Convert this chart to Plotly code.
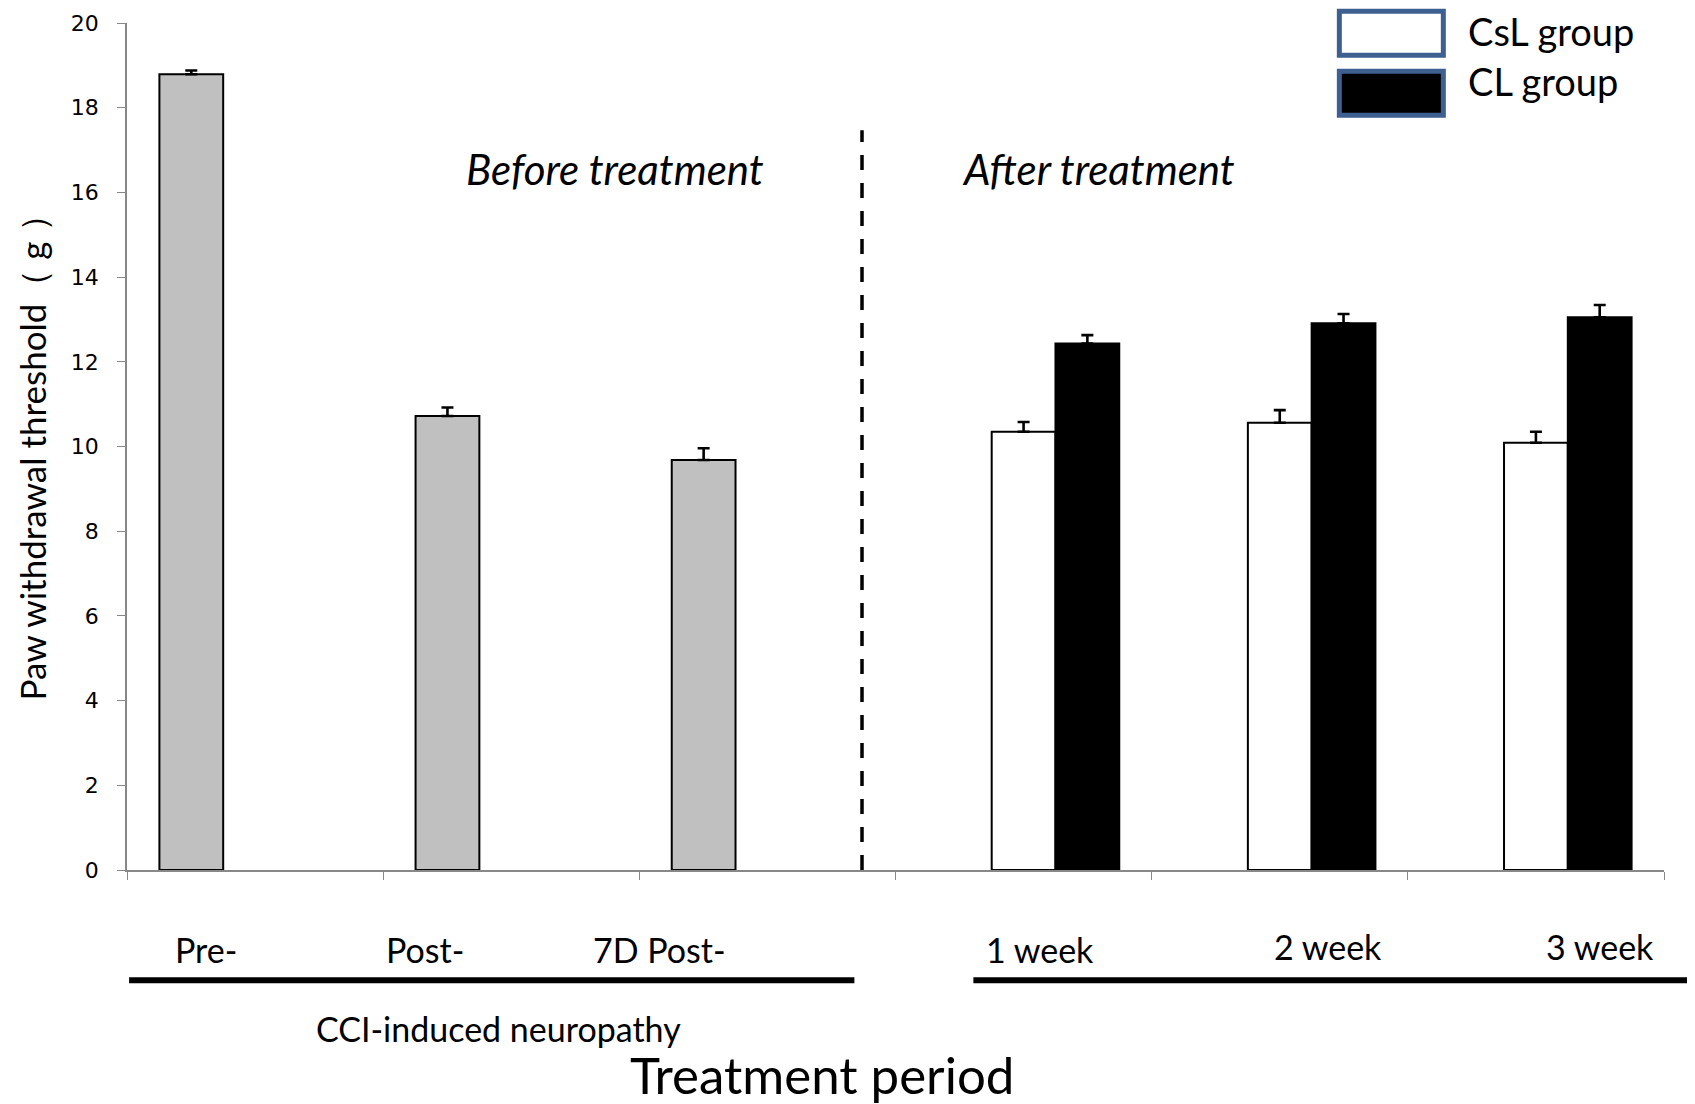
import plotly.graph_objects as go

# ---- data ----
categories = ["Pre-", "Post-", "7D Post-", "1 week", "2 week", "3 week"]
baseline_vals = [18.79, 10.72, 9.68, None, None, None]
baseline_err = [0.09, 0.20, 0.28, 0, 0, 0]
csl_vals = [None, None, None, 10.35, 10.56, 10.09]
csl_err = [0, 0, 0, 0.23, 0.30, 0.26]
cl_vals = [None, None, None, 12.43, 12.91, 13.05]
cl_err = [0, 0, 0, 0.20, 0.22, 0.29]
series_names = ["CsL group", "CL group"]
y_ticks = [0, 2, 4, 6, 8, 10, 12, 14, 16, 18, 20]

OFF = 8  # browser body margin
W, H = 1695 - OFF, 1104 - OFF
plot_left, plot_right, plot_top, plot_bottom = 126.5, 1663.7, 22.7, 870.2  # page coords
L = plot_left - OFF
T = plot_top - OFF
R = W - (plot_right - OFF)
B = H - (plot_bottom - OFF)
pw, ph = plot_right - plot_left, plot_bottom - plot_top

def px(x):
    return (x - plot_left) / pw

def py(y):
    return (plot_bottom - y) / ph

zeros = [0] * len(categories)

fig = go.Figure()
err_style = dict(type="data", symmetric=False, arrayminus=zeros, color="black", thickness=2.6, width=6)
bar_line = dict(color="black", width=2)
fig.add_trace(go.Bar(x=categories, y=baseline_vals, name="baseline",
                     marker=dict(color="#C0C0C0", line=bar_line),
                     error_y=dict(array=baseline_err, **err_style), showlegend=False))
fig.add_trace(go.Bar(x=categories, y=csl_vals, name=series_names[0],
                     marker=dict(color="white", line=bar_line),
                     error_y=dict(array=csl_err, **err_style), showlegend=False))
fig.add_trace(go.Bar(x=categories, y=cl_vals, name=series_names[1],
                     marker=dict(color="black", line=bar_line),
                     error_y=dict(array=cl_err, **err_style), showlegend=False))

calibri = "Lato, 'Open Sans', sans-serif"

def ann(text, x, y, size, xanchor="center", **kw):
    return dict(text=text, x=px(x), y=py(y), xref="paper", yref="paper",
                showarrow=False, xanchor=xanchor, yanchor="middle",
                font=dict(family=calibri, size=size, color="black"), **kw)

annotations = []
label_x = [205.4, 424.8, 659.4, 1039.9, 1327.5, 1599.9]
label_y = [950.2, 950.2, 950.2, 950.2, 947, 947]
for lab, lx, ly in zip(categories, label_x, label_y):
    annotations.append(ann(lab, lx, ly, 34))
annotations += [
    ann("CCI-induced neuropathy", 498, 1029, 34),
    ann("Treatment period", 821.5, 1075, 51),
    ann("<i>Before treatment</i>", 615, 168.6, 42),
    ann("<i>After treatment</i>", 1098, 168.6, 42),
    ann("Paw withdrawal threshold（ g ）", 32, 449, 35, textangle=-90),
    ann(series_names[0], 1466, 31, 38, xanchor="left"),
    ann(series_names[1], 1466, 81, 38, xanchor="left"),
]

def hline(x0, x1, y, width):
    return dict(type="line", xref="paper", yref="paper", x0=px(x0), x1=px(x1), y0=py(y), y1=py(y),
                line=dict(color="black", width=width))

shapes = [
    dict(type="line", xref="paper", yref="paper", x0=px(861.6), x1=px(861.6), y0=0, y1=py(130),
         line=dict(color="black", width=3.5, dash="15px,13px")),
    hline(128.6, 854, 980.5, 6),
    hline(973, 1710, 980.5, 6),
    dict(type="rect", xref="paper", yref="paper", x0=px(1339), x1=px(1443), y0=py(11), y1=py(55),
         fillcolor="white", line=dict(color="#3D6090", width=5)),
    dict(type="rect", xref="paper", yref="paper", x0=px(1339), x1=px(1443), y0=py(71), y1=py(115),
         fillcolor="black", line=dict(color="#3D6090", width=5)),
]

fig.update_layout(
    width=W, height=H,
    margin=dict(l=L, r=R, t=T, b=B, pad=0, autoexpand=False),
    paper_bgcolor="white", plot_bgcolor="white",
    barmode="group", bargap=0.253, bargroupgap=0,
    showlegend=False,
    annotations=annotations, shapes=shapes,
    xaxis=dict(type="category", range=[-0.5, 5.5], showticklabels=False, showgrid=False,
               showline=True, linecolor="#888888", linewidth=1.5, automargin=False,
               ticks="outside", tickson="boundaries", ticklen=8, tickcolor="#888888", tickwidth=1.2,
               zeroline=False),
    yaxis=dict(range=[0, 20], tickvals=y_ticks, showgrid=False, zeroline=False,
               showline=True, linecolor="#888888", linewidth=1.5, automargin=False,
               ticks="outside", ticklen=8, tickcolor="#888888", tickwidth=1.2,
               ticklabelstandoff=14,
               tickfont=dict(family="DejaVu Sans", size=22, color="black")),
)

fig.write_html("out.html")
